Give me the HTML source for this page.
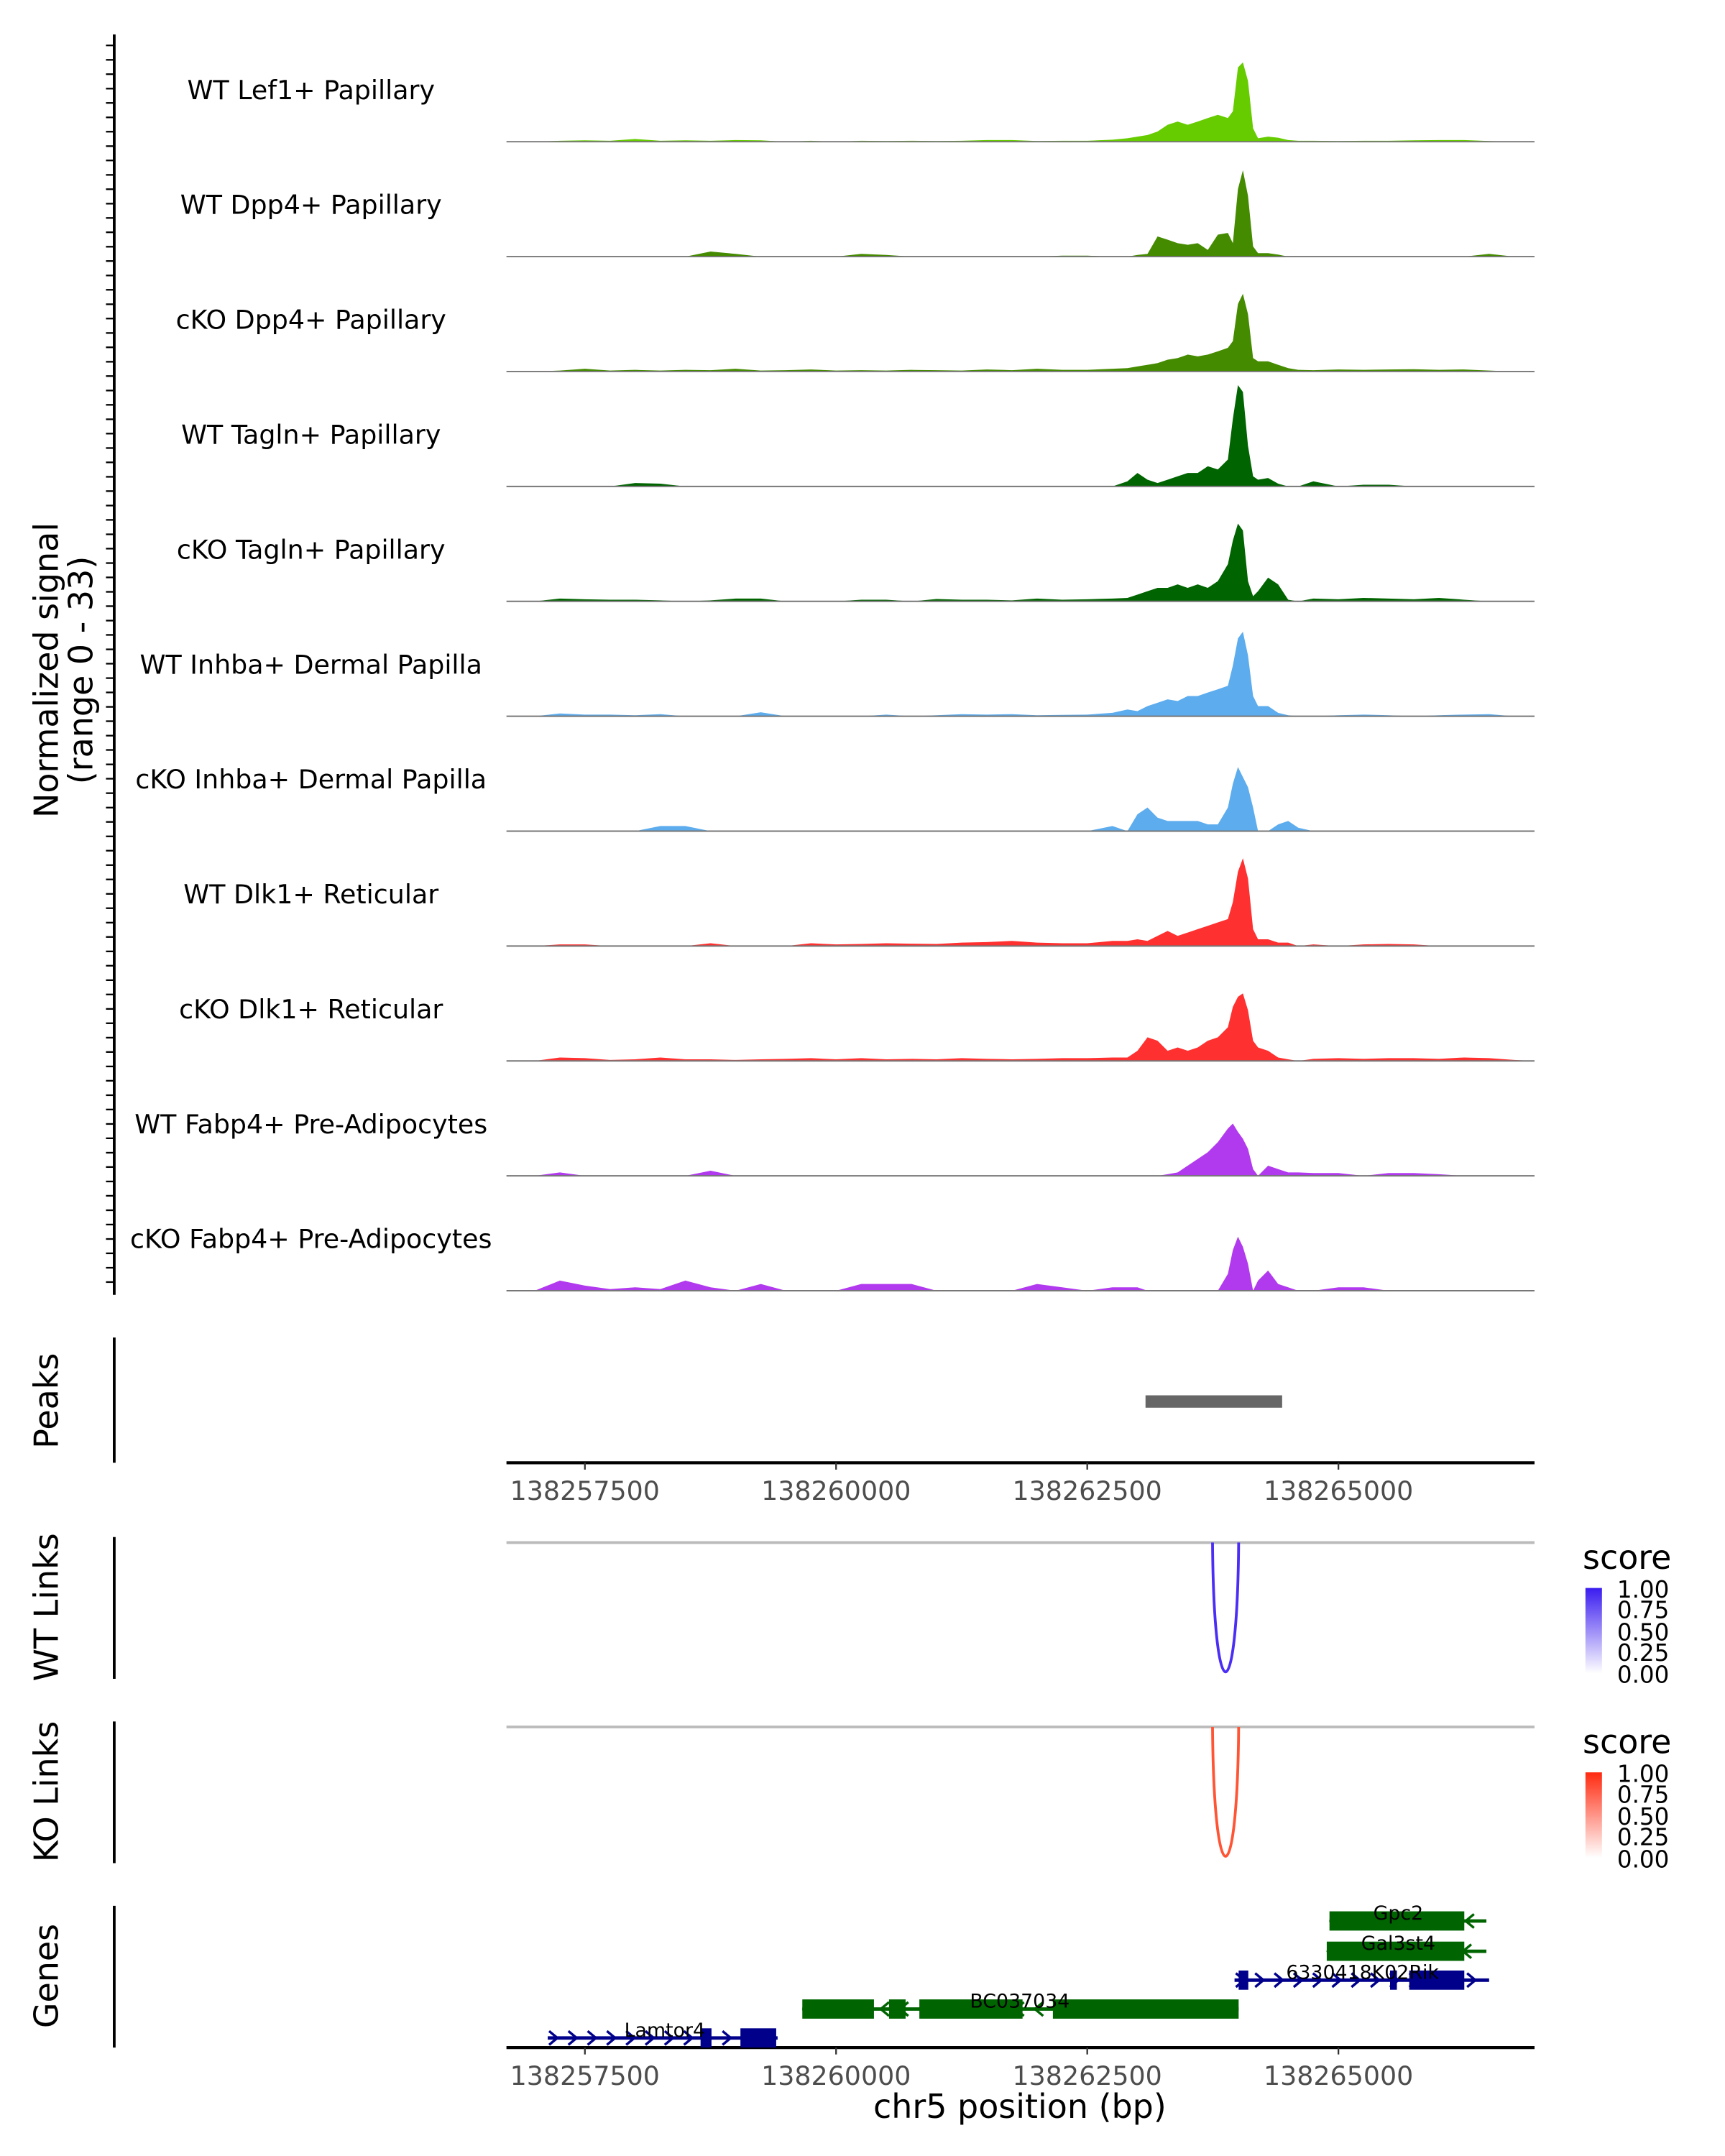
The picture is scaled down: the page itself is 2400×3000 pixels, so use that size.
<!DOCTYPE html>
<html><head><meta charset="utf-8"><style>
html,body{margin:0;padding:0;background:#fff}
svg{display:block;font-family:"DejaVu Sans","Liberation Sans",sans-serif}
</style></head><body>
<svg id="fig" xmlns="http://www.w3.org/2000/svg" width="2400" height="3000" viewBox="0 0 1253.4 1566.8" preserveAspectRatio="none">
<g id="tracks"></g>
<g id="axes"></g>
<g id="genes"></g>
<text transform="translate(42,487) rotate(-90)" text-anchor="middle" font-size="24">Normalized signal</text>
<text transform="translate(67,487) rotate(-90)" text-anchor="middle" font-size="24">(range 0 - 33)</text>
<text transform="translate(42,1018) rotate(-90)" text-anchor="middle" font-size="24">Peaks</text>
<text transform="translate(42,1168) rotate(-90)" text-anchor="middle" font-size="24">WT Links</text>
<text transform="translate(42,1302) rotate(-90)" text-anchor="middle" font-size="24">KO Links</text>
<text transform="translate(42,1436) rotate(-90)" text-anchor="middle" font-size="24">Genes</text>
<text x="741" y="1539" text-anchor="middle" font-size="24">chr5 position (bp)</text>
<defs>
<linearGradient id="gb" x1="0" y1="0" x2="0" y2="1"><stop offset="0" stop-color="#3a1cf0"/><stop offset="1" stop-color="#ffffff"/></linearGradient>
<linearGradient id="gr" x1="0" y1="0" x2="0" y2="1"><stop offset="0" stop-color="#ff2a10"/><stop offset="1" stop-color="#ffffff"/></linearGradient>
</defs>
<g>
<text x="1150" y="1140" font-size="24">score</text>
<rect x="1152" y="1154" width="12" height="62" fill="url(#gb)"/>
<g font-size="17"><text x="1175" y="1161">1.00</text><text x="1175" y="1176">0.75</text><text x="1175" y="1192">0.50</text><text x="1175" y="1207">0.25</text><text x="1175" y="1223">0.00</text></g>
</g>
<g>
<text x="1150" y="1274" font-size="24">score</text>
<rect x="1152" y="1288" width="12" height="62" fill="url(#gr)"/>
<g font-size="17"><text x="1175" y="1295">1.00</text><text x="1175" y="1310">0.75</text><text x="1175" y="1326">0.50</text><text x="1175" y="1341">0.25</text><text x="1175" y="1357">0.00</text></g>
</g>
</svg>
<script>
const positions=[138257000,138257250,138257500,138257750,138258000,138258250,138258500,138258750,138259000,138259250,138259500,138259750,138260000,138260250,138260500,138260750,138261000,138261250,138261500,138261750,138262000,138262250,138262500,138262750,
138262900,138263000,138263100,138263200,138263300,138263400,138263500,138263600,138263700,138263800,138263900,138263950,138264000,138264050,138264100,138264150,138264200,138264300,138264400,138264500,138264600,
138264750,138265000,138265250,138265500,138265750,138266000,138266250,138266500,138266750];
const trackNames=["WT Lef1+ Papillary","WT Dpp4+ Papillary","cKO Dpp4+ Papillary","WT Tagln+ Papillary","cKO Tagln+ Papillary","WT Inhba+ Dermal Papilla","cKO Inhba+ Dermal Papilla","WT Dlk1+ Reticular","cKO Dlk1+ Reticular","WT Fabp4+ Pre-Adipocytes","cKO Fabp4+ Pre-Adipocytes"];
const trackColors=["#66cc00","#458b00","#458b00","#006400","#006400","#5cacee","#5cacee","#ff3030","#ff3030","#b23aee","#b23aee"];
const lef1WT=[0,0.3,0.4,0.3,0.8,0.3,0.4,0.3,0.5,0.4,0,0.3,0,0.3,0.2,0.3,0.2,0.3,0.5,0.5,0.2,0.3,0.3,0.6, 1,1.5,2,3,5,6,5,6,7,8,7,9,22,23.5,18,4,1,1.5,1.2,0.5,0.3, 0.3,0.2,0.3,0.3,0.4,0.5,0.5,0.2,0];
const dpp4WT=[0,0,0,0,0,0,0,1.5,0.8,0,0,0,0,0.8,0.5,0,0,0,0,0,0,0.3,0.3,0, 0,0.5,0.8,6,5,4,3.5,4,2,6.5,7,4,20,25.6,18,3,1,1,0.6,0,0, 0,0,0,0,0,0,0,0.8,0];
const dpp4KO=[0,0.3,0.8,0.3,0.5,0.3,0.5,0.4,0.8,0.3,0.4,0.6,0.3,0.4,0.3,0.5,0.4,0.3,0.6,0.4,0.8,0.5,0.5,0.8, 1,1.5,2,2.5,3.5,4,5,4.5,5,6,7,9,20,23,17,4,3,3,2,1,0.5, 0.4,0.6,0.5,0.6,0.7,0.5,0.6,0.3,0];
const taglnWT=[0,0,0,0,1,0.8,0,0,0,0,0,0,0,0,0,0,0,0,0,0,0,0,0,0, 1.5,4,2,1,2,3,4,4,6,5,8,20,30,28,12,3,2,2.5,0.8,0,0, 1.5,0,0.5,0.5,0,0,0,0,0];
const taglnKO=[0,0.8,0.6,0.5,0.5,0.3,0,0.3,0.8,0.8,0,0,0,0.5,0.5,0,0.7,0.5,0.5,0.3,0.8,0.5,0.6,0.8, 1,2,3,4,4,5,4,5,4,6,11,18,23,21,6,1.5,3,7,5,0.5,0, 0.8,0.6,1,0.8,0.6,1,0.5,0,0];
const inhbaWT=[0,0.8,0.5,0.5,0.3,0.6,0,0,0,1.2,0,0,0,0,0.5,0,0.3,0.6,0.5,0.6,0.3,0.4,0.5,1, 2,1.5,3,4,5,4.5,6,6,7,8,9,15,23,25,18,6,3,3,1,0.3,0, 0,0.3,0.5,0.3,0,0.3,0.5,0.6,0];
const inhbaKO=[0,0,0,0,0,1.5,1.5,0,0,0,0,0,0,0,0,0,0,0,0,0,0,0,0,1.5, 0,5,7,4,3,3,3,3,2,2,7,14,19,16,13,7,0,0,2,3,1, 0,0,0,0,0,0,0,0,0];
const dlk1WT=[0,0.5,0.5,0,0,0,0,0.8,0,0,0,0.8,0.5,0.6,0.8,0.7,0.6,1,1.2,1.5,1,0.8,0.8,1.5, 1.5,2,1.5,3,4.5,3,4,5,6,7,8,13,22,26,20,5,2,2,1,1,0, 0.5,0,0.5,0.6,0.5,0,0,0,0];
const dlk1KO=[0,1,0.8,0.3,0.5,1,0.5,0.5,0.3,0.5,0.6,0.8,0.5,0.8,0.5,0.6,0.5,0.8,0.6,0.5,0.6,0.8,0.8,1, 1,3,7,6,3,4,3,4,6,7,10,16,19,20,15,6,4,3,1,0.5,0, 0.6,0.8,0.6,0.8,0.8,0.6,1,0.8,0.3];
const fabp4WT=[0,1,0,0,0,0,0,1.5,0,0,0,0,0,0,0,0,0,0,0,0,0,0,0,0, 0,0,0,0,0.5,1,3,5,7,10,14,15.5,13,11,8,2,0,3,2,1,1, 0.8,0.8,0,0.8,0.8,0.5,0,0,0];
const fabp4KO=[0,3,1.5,0.5,1,0.5,3,1,0,2,0,0,0,2,2,2,0,0,0,0,2,1,0,1, 1,1,0,0,0,0,0,0,0,0,5,12,16,13,8,0,3,6,2,1,0, 0,1,1,0,0,0,0,0,0];
const signals=[lef1WT,dpp4WT,dpp4KO,taglnWT,taglnKO,inhbaWT,inhbaKO,dlk1WT,dlk1KO,fabp4WT,fabp4KO];
const xTicks=[138257500,138260000,138262500,138265000];
const xTickLabels=["138257500","138260000","138262500","138265000"];
const peakRegion=[138263080,138264440];
const wtLink=[138263747,138264007];
const koLink=[138263747,138264007];
const geneNames=["Gpc2","Gal3st4","6330418K02Rik","BC037034","Lamtor4"];
const geneSpans=[[138264911,138266473],[138264884,138266473],[138263966,138266500],[138259664,138264007],[138257130,138259418]];
const geneStrand=[-1,-1,1,-1,1];
const geneExons=[[[138264911,138266253]],[[138264884,138266253]],[[138264007,138264103],[138265514,138265582],[138265705,138266253]],[[138259664,138260377],[138260527,138260692],[138260829,138261856],[138262158,138264007]],[[138258651,138258760],[138259048,138259404]]];

const NS="http://www.w3.org/2000/svg";
const X0=368,X1=1115;
function xs(bp){return 425+(bp-138257500)*0.073;}
const YMAX=33, TH=81;
function baseY(i){return 103+i*83.5;}
function ys(i,v){return baseY(i)-v/YMAX*TH;}
function mk(tag,attrs,parent){const e=document.createElementNS(NS,tag);for(const k in attrs)e.setAttribute(k,attrs[k]);parent.appendChild(e);return e;}

const tg=document.getElementById('tracks');
signals.forEach((arr,i)=>{
  const g=mk('g',{},tg);
  
  
  let d='M'+X0+','+baseY(i);
  arr.forEach((v,j)=>{d+=' L'+xs(positions[j]).toFixed(1)+','+ys(i,v).toFixed(1);});
  d+=' L'+X1+','+baseY(i)+' Z';
  const p=mk('path',{d:d,fill:trackColors[i]},g);
  
  
  const l=mk('line',{x1:X0,x2:X1,y1:baseY(i),y2:baseY(i),stroke:'#777','stroke-width':1},g);
  
  
  const t=mk('text',{x:226,y:baseY(i)-31,'text-anchor':'middle','font-size':19},g);
  t.textContent=trackNames[i];
  
  
});

const ax=document.getElementById('axes');
mk('line',{x1:83,x2:83,y1:25,y2:941,stroke:'#000','stroke-width':2},ax);
for(let y=33;y<=941;y+=10.45){mk('line',{x1:77,x2:83,y1:y.toFixed(1),y2:y.toFixed(1),stroke:'#000','stroke-width':1.2},ax);}
[[972,1063],[1117,1220],[1251,1354],[1385,1488]].forEach(s=>mk('line',{x1:83,x2:83,y1:s[0],y2:s[1],stroke:'#000','stroke-width':2},ax));
const pk=mk('rect',{x:xs(peakRegion[0]),y:1014,width:xs(peakRegion[1])-xs(peakRegion[0]),height:9,fill:'#666'},ax);


[1063,1488].forEach(yy=>{
  mk('line',{x1:X0,x2:X1,y1:yy,y2:yy,stroke:'#000','stroke-width':2.2},ax);
  xTicks.forEach((bp,k)=>{
    mk('line',{x1:xs(bp),x2:xs(bp),y1:yy,y2:yy+5,stroke:'#333','stroke-width':1.2},ax);
    const t=mk('text',{x:xs(bp),y:yy+27,'text-anchor':'middle','font-size':19,fill:'#4d4d4d'},ax);
    t.textContent=xTickLabels[k];
    
    
  });
});
function link(span,top,bot,col,name){
  mk('line',{x1:X0,x2:X1,y1:top,y2:top,stroke:'#bbb','stroke-width':2},ax);
  const a=xs(span[0]),b=xs(span[1]);
  const c=top+(bot-top)/0.75;
  const p=mk('path',{d:`M${a},${top} C${a+1},${c} ${b-1},${c} ${b},${top}`,fill:'none',stroke:col,'stroke-width':2},ax);
  
  
}
link(wtLink,1121,1215,'#4a2ef5','wt-link-arc');
link(koLink,1255,1349,'#ff5535','ko-link-arc');

const gg=document.getElementById('genes');
const rowY=[1396,1418,1439,1460,1481];
geneNames.forEach((n,i)=>{
  const g=mk('g',{},gg);
  
  
  const col=geneStrand[i]>0?'#00008b':'#006400';
  const y=rowY[i],a=xs(geneSpans[i][0]),b=xs(geneSpans[i][1]);
  mk('line',{x1:a,x2:b,y1:y,y2:y,stroke:col,'stroke-width':2.5},g);
  for(let x=a+4;x<b;x+=14){
    const s=geneStrand[i]*3;
    mk('polyline',{points:`${x-s},${y-5} ${x+s},${y} ${x-s},${y+5}`,fill:'none',stroke:col,'stroke-width':1.8},g);
  }
  geneExons[i].forEach(e=>mk('rect',{x:xs(e[0]),y:y-7,width:xs(e[1])-xs(e[0]),height:14,fill:col},g));
  const t=mk('text',{x:(i==4?483:(i==3?741:(i==2?990:1016))),y:y-1,'text-anchor':'middle','font-size':14},g);
  t.textContent=n;
});
</script>
</body></html>
